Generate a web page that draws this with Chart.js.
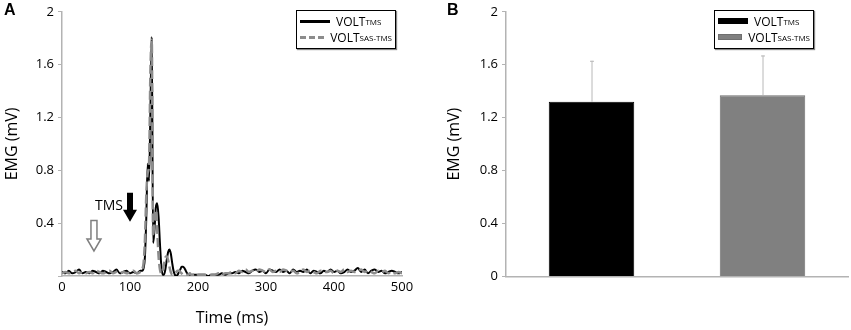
<!DOCTYPE html>
<html lang="en">
<head>
<meta charset="UTF-8">
<title>EMG - VOLT</title>
<script src="https://cdn.jsdelivr.net/npm/chart.js@4"></script>
<style>
  body { margin: 0; background: #fff; font-family: "Open Sans", sans-serif; }
  #figura { position: relative; width: 851px; height: 330px; overflow: hidden; }
  .painel { position: absolute; top: 0; height: 330px; }
  #painelA { left: 0; width: 430px; }
  #painelB { left: 430px; width: 421px; }
  .letra { position: absolute; top: 1px; font: bold 16px "Liberation Sans", Arial, sans-serif; }
  .legenda { position: absolute; top: 10px; width: 92px; height: 33px; background: #fff;
             border: 1.5px solid #000; box-shadow: 1px 1px 1px #888; padding: 2px 3px; font-size: 12px; }
  .item { display: flex; align-items: center; height: 16px; white-space: nowrap; }
  .amostra { width: 30px; height: 0; margin-right: 6px; }
  .item sub { font-size: 8px; vertical-align: -2px; }
</style>
</head>
<body>
<div id="figura">
  <div class="painel" id="painelA"><canvas id="graficoA"></canvas></div>
  <div class="painel" id="painelB"><canvas id="graficoB"></canvas></div>
  <div class="letra" style="left:4px">A</div>
  <div class="letra" style="left:447px">B</div>
  <div class="legenda" id="legendaA" style="left:296px"></div>
  <div class="legenda" id="legendaB" style="left:714px"></div>
</div>

<script>
// ---- dados ----
const nomeBase = 'VOLT';
const nomeSub = ['TMS', 'SAS-TMS'];

// tempo (ms) das amostras dos traços EMG
const tempoMs = [
  0,5,10,15,20,25,30,35,40,45,50,55,60,65,70,75,80,85,90,95,100,105,110,115,
  118,120,122,124,126,128,130,132,134,136,138,140,142,144,146,148,150,152,154,156,158,160,
  162,164,166,168,170,172,174,176,178,180,182,184,186,188,190,192,194,196,198,200,
  205,210,215,220,225,230,235,240,245,250,255,260,265,270,275,280,285,290,295,300,
  305,310,315,320,325,330,335,340,345,350,355,360,365,370,375,380,385,390,395,400,
  405,410,415,420,425,430,435,440,445,450,455,460,465,470,475,480,485,490,495,500
];

// EMG (mV) - VOLT TMS
const voltTms = [
  0.03,0.02,0.04,0.02,0.03,0.05,0.02,0.03,0.02,0.04,0.03,0.02,0.04,0.03,0.02,0.03,0.05,0.02,0.03,0.04,0.02,0.03,0.02,0.04,
  0.04,0.06,0.15,0.45,0.85,0.72,1.25,1.81,0.25,0.35,0.52,0.55,0.45,0.25,0.08,0.01,0.01,0.05,0.12,0.18,0.20,0.17,
  0.10,0.04,0.01,0.00,0.01,0.03,0.05,0.07,0.07,0.06,0.04,0.02,0.01,0.00,0.00,0.01,0.01,0.01,0.01,0.01,
  0.01,0.01,0.00,0.01,0.01,0.01,0.02,0.01,0.02,0.02,0.03,0.02,0.04,0.03,0.02,0.04,0.05,0.03,0.04,0.02,
  0.05,0.04,0.03,0.05,0.03,0.04,0.02,0.05,0.03,0.04,0.03,0.05,0.02,0.04,0.03,0.02,0.04,0.03,0.05,0.03,
  0.04,0.02,0.03,0.05,0.03,0.04,0.06,0.03,0.05,0.02,0.04,0.05,0.03,0.04,0.02,0.03,0.04,0.03,0.02,0.03
];

// EMG (mV) - VOLT SAS-TMS
const voltSasTms = [
  0.02,0.03,0.02,0.03,0.04,0.02,0.03,0.02,0.03,0.02,0.04,0.03,0.02,0.03,0.04,0.02,0.03,0.02,0.03,0.02,0.03,0.04,0.02,0.03,
  0.05,0.10,0.28,0.62,0.78,0.85,1.55,1.79,0.30,0.45,0.50,0.35,0.15,0.05,0.02,0.04,0.09,0.14,0.15,0.12,0.07,0.03,
  0.01,0.01,0.02,0.03,0.04,0.04,0.03,0.02,0.01,0.01,0.01,0.01,0.01,0.02,0.01,0.01,0.01,0.01,0.02,0.01,
  0.01,0.01,0.01,0.01,0.01,0.02,0.01,0.02,0.02,0.03,0.02,0.04,0.03,0.05,0.03,0.04,0.03,0.05,0.04,0.03,
  0.05,0.03,0.04,0.03,0.05,0.04,0.03,0.04,0.02,0.03,0.05,0.03,0.04,0.03,0.02,0.04,0.03,0.03,0.04,0.02,
  0.04,0.03,0.05,0.03,0.04,0.03,0.04,0.05,0.03,0.04,0.03,0.02,0.04,0.03,0.04,0.02,0.03,0.02,0.03,0.02
];

// painel B: médias e desvios
const mediaEmg = [1.32, 1.37];
const desvioEmg = [0.31, 0.30];

// setas do painel A (tempo em ms, topo/base em mV)
const setas = [
  { t: 47, topo: 0.42, base: 0.19, cheia: false, texto: '' },
  { t: 100, topo: 0.63, base: 0.41, cheia: true, texto: 'TMS' }
];

const corEixo = '#b3b3b3';
const fonteTick = { family: 'Open Sans', size: 13 };
const fonteTitulo = { family: 'Open Sans', size: 16 };

function rotuloTick(v) {
  return v === 0 ? '' : String(Math.round(v * 10) / 10);
}

// ---- legendas ----
function montaLegenda(id, amostras) {
  let html = '';
  for (let i = 0; i < nomeSub.length; i++) {
    html += '<div class="item"><div class="amostra" style="' + amostras[i] + '"></div>' +
            nomeBase + '<sub>' + nomeSub[i] + '</sub></div>';
  }
  document.getElementById(id).innerHTML = html;
}
montaLegenda('legendaA', ['border-top:3px solid #000', 'border-top:3px dashed #8c8c8c']);
montaLegenda('legendaB', ['height:6px;background:#000', 'height:6px;background:#808080;border:1px solid #6f6f6f;box-sizing:border-box']);

// ---- plugin das setas ----
const pluginSetas = {
  id: 'setas',
  afterDatasetsDraw(chart) {
    const ctx = chart.ctx;
    const sx = chart.scales.x, sy = chart.scales.y;
    setas.forEach(function (s) {
      const x = sx.getPixelForValue(s.t);
      const y1 = sy.getPixelForValue(s.topo);
      const y2 = sy.getPixelForValue(s.base);
      const cab = 12;
      ctx.save();
      ctx.beginPath();
      ctx.moveTo(x - 3, y1);
      ctx.lineTo(x + 3, y1);
      ctx.lineTo(x + 3, y2 - cab);
      ctx.lineTo(x + 7, y2 - cab);
      ctx.lineTo(x, y2);
      ctx.lineTo(x - 7, y2 - cab);
      ctx.lineTo(x - 3, y2 - cab);
      ctx.closePath();
      if (s.cheia) {
        ctx.fillStyle = '#000';
        ctx.fill();
      } else {
        ctx.fillStyle = '#fff';
        ctx.fill();
        ctx.strokeStyle = '#7f7f7f';
        ctx.lineWidth = 1.5;
        ctx.stroke();
      }
      if (s.texto) {
        ctx.fillStyle = '#000';
        ctx.font = '14px "Open Sans"';
        ctx.textAlign = 'right';
        ctx.textBaseline = 'middle';
        ctx.fillText(s.texto, x - 7, (y1 + y2) / 2 - 1);
      }
      ctx.restore();
    });
  }
};

// ---- plugin das barras de erro ----
const pluginErro = {
  id: 'erro',
  afterDatasetsDraw(chart) {
    const ctx = chart.ctx;
    const sy = chart.scales.y;
    chart.data.datasets.forEach(function (ds, i) {
      const barra = chart.getDatasetMeta(i).data[0];
      const topo = sy.getPixelForValue(ds.data[0] + desvioEmg[i]);
      ctx.save();
      ctx.strokeStyle = '#b8b8b8';
      ctx.lineWidth = 1;
      ctx.beginPath();
      ctx.moveTo(barra.x + 0.5, barra.y);
      ctx.lineTo(barra.x + 0.5, topo);
      ctx.moveTo(barra.x - 1.5, topo + 0.5);
      ctx.lineTo(barra.x + 2.5, topo + 0.5);
      ctx.stroke();
      ctx.restore();
    });
  }
};

// ---- gráfico A ----
new Chart(document.getElementById('graficoA'), {
  type: 'line',
  data: {
    labels: tempoMs,
    datasets: [
      {
        label: nomeBase + ' ' + nomeSub[0],
        data: voltTms.map(function (v, i) { return { x: tempoMs[i], y: v }; }),
        borderColor: '#000', borderWidth: 2, pointRadius: 0,
        cubicInterpolationMode: 'monotone', order: 1
      },
      {
        label: nomeBase + ' ' + nomeSub[1],
        data: voltSasTms.map(function (v, i) { return { x: tempoMs[i], y: v }; }),
        borderColor: '#8c8c8c', borderWidth: 2.5, borderDash: [9, 4], pointRadius: 0,
        cubicInterpolationMode: 'monotone', order: 0
      }
    ]
  },
  options: {
    responsive: true, maintainAspectRatio: false, animation: false,
    layout: { padding: { left: 0, right: 28, top: 7, bottom: 0 } },
    plugins: { legend: { display: false }, tooltip: { enabled: false } },
    scales: {
      x: {
        type: 'linear', min: 0, max: 500,
        grid: { display: true, drawOnChartArea: false, drawTicks: false },
        border: { color: corEixo, width: 1.5 },
        ticks: { stepSize: 100, color: '#000', font: fonteTick, padding: 3, maxRotation: 0 },
        title: { display: true, text: 'Time (ms)', color: '#000', font: fonteTitulo, padding: { top: 0, bottom: 2 } },
        afterFit: function (s) { s.height = 54; }
      },
      y: {
        min: 0, max: 2,
        grid: { display: true, drawOnChartArea: false, tickLength: 4, color: corEixo },
        border: { color: corEixo, width: 1.5 },
        ticks: { stepSize: 0.4, color: '#000', font: fonteTick, padding: 4, callback: rotuloTick },
        title: { display: true, text: 'EMG (mV)', color: '#000', font: fonteTitulo, padding: { top: 3, bottom: 0 } },
        afterFit: function (s) { s.width = 62; }
      }
    }
  },
  plugins: [pluginSetas]
});

// ---- gráfico B ----
new Chart(document.getElementById('graficoB'), {
  type: 'bar',
  data: {
    labels: [nomeBase],
    datasets: [
      { label: nomeBase + ' ' + nomeSub[0], data: [mediaEmg[0]], backgroundColor: '#000', borderColor: '#000', borderWidth: 1 },
      { label: nomeBase + ' ' + nomeSub[1], data: [mediaEmg[1]], backgroundColor: '#808080', borderColor: '#6f6f6f', borderWidth: 1 }
    ]
  },
  options: {
    responsive: true, maintainAspectRatio: false, animation: false,
    layout: { padding: { left: 0, right: 3, top: 7, bottom: 0 } },
    plugins: { legend: { display: false }, tooltip: { enabled: false } },
    datasets: { bar: { categoryPercentage: 1.0, barPercentage: 0.5 } },
    scales: {
      x: {
        grid: { display: true, drawOnChartArea: false, drawTicks: false },
        border: { color: corEixo, width: 1.5 },
        ticks: { display: false },
        afterFit: function (s) { s.height = 53.5; }
      },
      y: {
        min: 0, max: 2,
        grid: { display: true, drawOnChartArea: false, tickLength: 4, color: corEixo },
        border: { color: corEixo, width: 1.5 },
        ticks: { stepSize: 0.4, color: '#000', font: fonteTick, padding: 4,
                 callback: function (v) { return String(Math.round(v * 10) / 10); } },
        title: { display: true, text: 'EMG (mV)', color: '#000', font: fonteTitulo, padding: { top: 15, bottom: 0 } },
        afterFit: function (s) { s.width = 76; }
      }
    }
  },
  plugins: [pluginErro]
});
</script>
</body>
</html>
